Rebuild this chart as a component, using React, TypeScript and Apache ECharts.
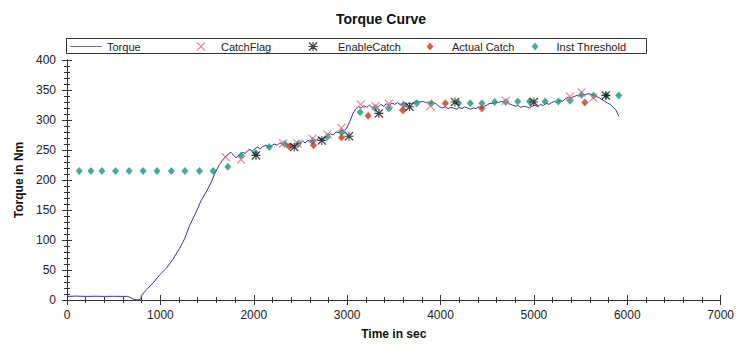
import React, { useEffect, useRef } from "react";
import * as echarts from "echarts";

const torque: [number, number][] = [
  [0, 6], [100, 6.5], [200, 6], [300, 6.3], [400, 6], [500, 6.2], [600, 6], [650, 6], [690, 3], [720, 1], [760, 0], [790, 2],
  [800, 8], [850, 17], [921, 28], [993, 42], [1064, 53], [1135, 68], [1206, 86], [1259, 102], [1313, 124], [1384, 147],
  [1437, 166], [1491, 180], [1544, 196], [1580, 210], [1633, 226], [1680, 236], [1704, 240], [1730, 244], [1757, 246],
  [1785, 241], [1810, 237], [1835, 240], [1860, 243], [1885, 246], [1910, 244], [1935, 249], [1960, 251], [1985, 248],
  [2010, 252], [2040, 255], [2070, 252], [2100, 256], [2130, 258], [2160, 255], [2190, 257], [2220, 260], [2250, 258],
  [2280, 262], [2310, 259], [2340, 263], [2370, 258], [2400, 260], [2430, 257], [2460, 262], [2490, 260], [2520, 265],
  [2550, 262], [2580, 266], [2610, 263], [2640, 268], [2670, 266], [2700, 271], [2730, 268], [2760, 272], [2790, 274],
  [2820, 277], [2850, 275], [2880, 280], [2910, 279], [2940, 283], [2970, 281], [3000, 288], [3030, 298], [3060, 310],
  [3090, 318], [3120, 322], [3150, 320], [3180, 324], [3210, 321], [3240, 325], [3270, 320], [3300, 324], [3330, 321],
  [3360, 326], [3390, 323], [3420, 327], [3450, 325], [3480, 328], [3510, 326], [3540, 329], [3570, 325], [3600, 327],
  [3630, 324], [3660, 328], [3690, 327], [3720, 330], [3750, 331], [3780, 330], [3810, 331], [3840, 329], [3870, 330],
  [3900, 328], [3930, 329], [3960, 326], [3990, 322], [4020, 320], [4050, 322], [4080, 319], [4110, 321], [4140, 320],
  [4170, 318], [4200, 321], [4230, 319], [4260, 322], [4290, 320], [4320, 318], [4350, 320], [4380, 319], [4410, 322],
  [4440, 320], [4470, 323], [4500, 325], [4530, 328], [4560, 327], [4590, 330], [4620, 329], [4650, 331], [4680, 330],
  [4710, 332], [4740, 327], [4770, 325], [4800, 323], [4830, 324], [4860, 321], [4890, 323], [4920, 322], [4950, 320],
  [4980, 323], [5010, 325], [5040, 322], [5070, 326], [5100, 324], [5130, 328], [5160, 326], [5190, 329], [5220, 331],
  [5250, 329], [5280, 333], [5310, 331], [5340, 336], [5370, 338], [5400, 337], [5430, 339], [5460, 341], [5490, 340],
  [5520, 343], [5550, 342], [5580, 344], [5610, 343], [5640, 341], [5670, 339], [5700, 337], [5730, 334], [5760, 331],
  [5790, 328], [5820, 326], [5850, 321], [5880, 316], [5910, 306],
];

const catchFlag: [number, number][] = [
  [1700, 238], [1864, 234], [2315, 261], [2469, 261], [2629, 269], [2789, 276], [2938, 287], [3145, 326],
  [3305, 323], [3447, 327], [3597, 322], [3892, 323], [4699, 332], [5386, 339], [5510, 346], [5635, 337],
];

const enableCatch: [number, number][] = [
  [2024, 241], [2433, 255], [2729, 266], [3020, 273], [3340, 311], [3668, 322], [4155, 330], [5000, 330], [5770, 341],
];

const actualCatch: [number, number][] = [
  [2380, 256], [2640, 258], [2940, 271], [3225, 307], [3597, 316], [4052, 328], [4443, 319], [5546, 329],
];

const instThreshold: [number, number][] = [
  [131, 215], [256, 215], [374, 215], [520, 215], [665, 215], [815, 215], [964, 215], [1118, 215], [1263, 215],
  [1419, 215], [1565, 215], [1722, 222], [1865, 241], [2020, 245], [2166, 255], [2330, 260], [2479, 261],
  [2629, 265], [2789, 272], [2942, 279], [3140, 313], [3300, 320], [3447, 319], [3605, 326], [3745, 328],
  [3903, 328], [4194, 328], [4319, 328], [4443, 328], [4580, 330], [4699, 330], [4827, 331], [4952, 331],
  [5120, 331], [5262, 331], [5386, 332], [5510, 342], [5640, 341], [5777, 341], [5909, 341],
];

const X_MIN = 0, X_MAX = 7000, X_INT = 1000;
const Y_MIN = 0, Y_MAX = 400, Y_INT = 50;

const FONT = "'Liberation Sans', Arial, sans-serif";
const X_SYM = "path://M0,1L1,0L5,4L9,0L10,1L6,5L10,9L9,10L5,6L1,10L0,9L4,5Z";
const AST_SYM =
  "path://M4.4,0H5.6V10H4.4Z M0,4.4H10V5.6H0Z M0,1L1,0L5,4L9,0L10,1L6,5L10,9L9,10L5,6L1,10L0,9L4,5Z";
const DIA_SYM = "path://M5,0L10,6L5,12L0,6Z";
const LINE_ICON = "path://M0,0H32V1H0Z";

export default function App() {
  const ref = useRef<HTMLDivElement>(null);
  useEffect(() => {
    if (!ref.current) return;
    const chart = echarts.init(ref.current, undefined, { renderer: "svg" });
    const axisColor = "#333";
    const baseX = { type: "value", min: X_MIN, max: X_MAX, interval: X_INT, splitLine: { show: false } };
    const baseY = { type: "value", min: Y_MIN, max: Y_MAX, interval: Y_INT, splitLine: { show: false } };
    const legendCommon = {
      top: 41,
      padding: 0,
      selectedMode: false,
      itemHeight: 9,
      textStyle: { fontFamily: FONT, fontSize: 11, color: "#222" },
    };
    chart.setOption({
      animation: false,
      backgroundColor: "#fff",
      title: {
        text: "Torque Curve",
        left: 331,
        top: 7,
        textStyle: { fontFamily: FONT, fontSize: 14, fontWeight: "bold", color: "#111" },
      },
      legend: [
        {
          ...legendCommon,
          data: [{ name: "Torque", icon: LINE_ICON }],
          left: 70,
          itemWidth: 32,
          itemStyle: { color: "#6a6ab2", borderWidth: 0 },
        },
        { ...legendCommon, data: ["CatchFlag"], left: 196.5, itemWidth: 30 },
        { ...legendCommon, data: ["EnableCatch"], left: 308.5, itemWidth: 40 },
        { ...legendCommon, data: ["Actual Catch"], left: 426.7, itemWidth: 34, itemHeight: 8 },
        { ...legendCommon, data: ["Inst Threshold"], left: 531.7, itemWidth: 33, itemHeight: 8 },
      ],
      graphic: [
        {
          type: "rect",
          shape: { x: 66.5, y: 38.5, width: 580, height: 15 },
          style: { fill: "none", stroke: "#333", lineWidth: 1 },
          silent: true,
        },
      ],
      grid: { left: 67, right: 14, top: 60, bottom: 43 },
      xAxis: [
        {
          ...baseX,
          position: "bottom",
          name: "Time in sec",
          nameLocation: "middle",
          nameGap: 28,
          nameTextStyle: { fontFamily: FONT, fontSize: 12, fontWeight: "bold", color: "#111" },
          axisLine: { lineStyle: { color: axisColor } },
          axisTick: { show: true, inside: false, length: 3, lineStyle: { color: axisColor } },
          minorTick: { show: true, splitNumber: 5, length: 2, lineStyle: { color: axisColor } },
          axisLabel: {
            fontFamily: FONT,
            fontSize: 12,
            color: "#222",
            margin: 9,
            formatter: (v: number) => String(v),
          },
        },
        {
          ...baseX,
          position: "bottom",
          axisLine: { show: false },
          axisLabel: { show: false },
          axisTick: { show: true, inside: true, length: 5, lineStyle: { color: axisColor } },
          minorTick: { show: true, splitNumber: 5, length: 3, lineStyle: { color: axisColor } },
        },
        {
          ...baseX,
          position: "top",
          axisLine: { show: true, lineStyle: { color: axisColor } },
          axisLabel: { show: false },
          axisTick: { show: true, inside: true, length: 5, lineStyle: { color: axisColor } },
          minorTick: { show: true, splitNumber: 5, length: 3, lineStyle: { color: axisColor } },
        },
      ],
      yAxis: [
        {
          ...baseY,
          position: "left",
          name: "Torque in Nm",
          nameLocation: "middle",
          nameGap: 41,
          nameTextStyle: { fontFamily: FONT, fontSize: 12, fontWeight: "bold", color: "#111" },
          axisLine: { show: true, lineStyle: { color: axisColor } },
          axisTick: { show: true, inside: false, length: 3, lineStyle: { color: axisColor } },
          minorTick: { show: true, splitNumber: 5, length: 2, lineStyle: { color: axisColor } },
          axisLabel: {
            fontFamily: FONT,
            fontSize: 12,
            color: "#222",
            margin: 11,
            formatter: (v: number) => String(v),
          },
        },
        {
          ...baseY,
          position: "left",
          axisLine: { show: false },
          axisLabel: { show: false },
          axisTick: { show: true, inside: true, length: 5, lineStyle: { color: axisColor } },
          minorTick: { show: true, splitNumber: 5, length: 3, lineStyle: { color: axisColor } },
        },
        {
          ...baseY,
          position: "right",
          axisLine: { show: true, lineStyle: { color: axisColor } },
          axisLabel: { show: false },
          axisTick: { show: true, inside: true, length: 5, lineStyle: { color: axisColor } },
          minorTick: { show: true, splitNumber: 5, length: 3, lineStyle: { color: axisColor } },
        },
      ],
      series: [
        {
          name: "Torque",
          type: "line",
          data: torque,
          showSymbol: false,
          symbol: "none",
          color: "#34349e",
          lineStyle: { color: "#34349e", width: 1 },
          z: 2,
        },
        {
          name: "Inst Threshold",
          type: "scatter",
          data: instThreshold,
          symbol: DIA_SYM,
          symbolSize: [7, 8],
          itemStyle: { color: "#17967a" },
          z: 3,
        },
        {
          name: "CatchFlag",
          type: "scatter",
          data: catchFlag,
          symbol: X_SYM,
          symbolSize: 9,
          itemStyle: { color: "#e27480" },
          z: 4,
        },
        {
          name: "Actual Catch",
          type: "scatter",
          data: actualCatch,
          symbol: DIA_SYM,
          symbolSize: [7, 8],
          itemStyle: { color: "#c8351c" },
          z: 5,
        },
        {
          name: "EnableCatch",
          type: "scatter",
          data: enableCatch,
          symbol: AST_SYM,
          symbolSize: 9,
          itemStyle: { color: "#111" },
          z: 6,
        },
      ],
    });
    return () => chart.dispose();
  }, []);
  return (
    <div
      ref={ref}
      style={{ position: "absolute", left: 0, top: 0, width: 737, height: 345, background: "#fff" }}
    />
  );
}
